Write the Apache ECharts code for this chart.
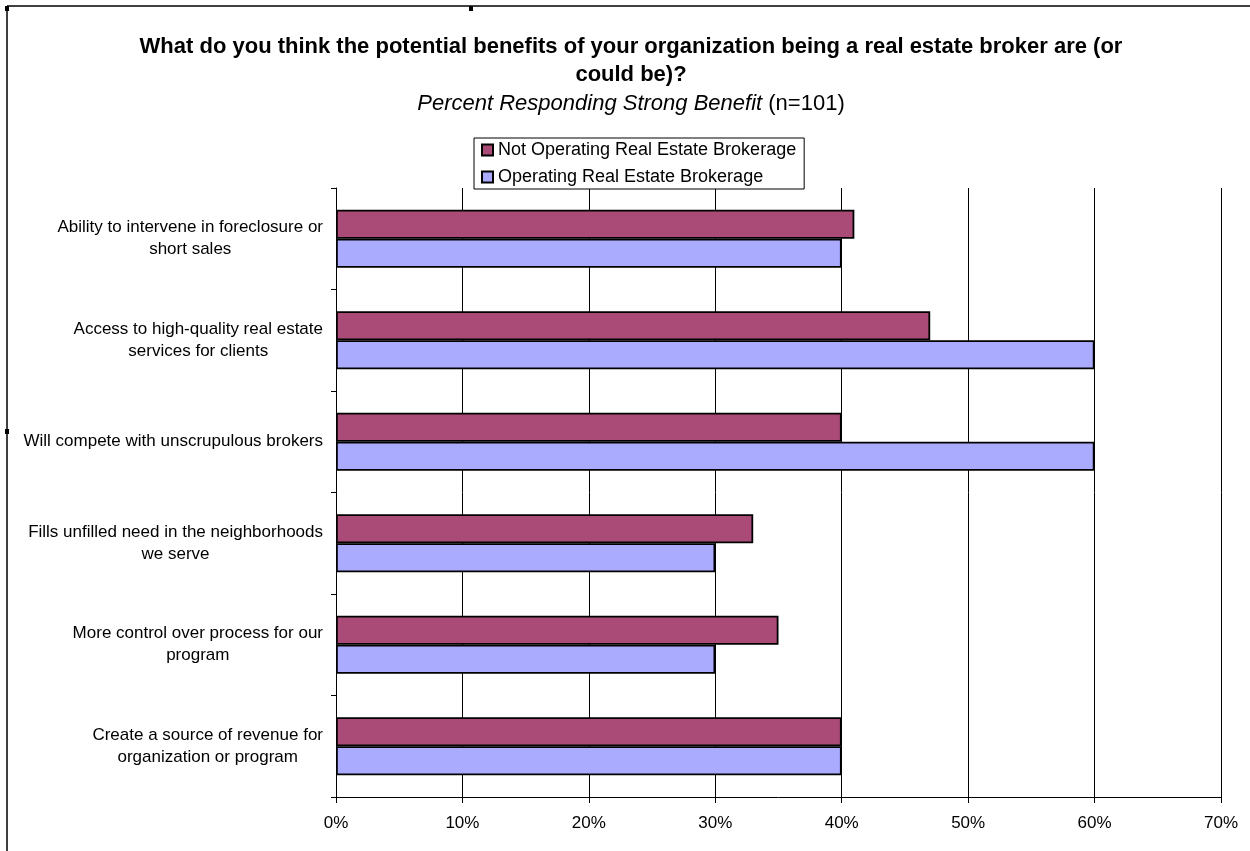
<!DOCTYPE html>
<html>
<head>
<meta charset="utf-8">
<script src="https://cdn.jsdelivr.net/npm/echarts@6/dist/echarts.min.js"></script>
<style>
  html, body { margin: 0; padding: 0; background: #fff; }
  #main { width: 1250px; height: 851px; }
</style>
</head>
<body>
<div id="main"></div>
<script>
var categories = [
  'Ability to intervene in foreclosure or\nshort sales',
  'Access to high-quality real estate\nservices for clients',
  'Will compete with unscrupulous brokers',
  'Fills unfilled need in the neighborhoods\nwe serve',
  'More control over process for our\nprogram',
  'Create a source of revenue for\norganization or program'
];
var notOperating = [41, 47, 40, 33, 35, 40];
var operating = [40, 60, 60, 30, 30, 40];
var seriesNames = ['Not Operating Real Estate Brokerage', 'Operating Real Estate Brokerage'];
var xMin = 0, xMax = 70, xStep = 10;

var font = "'Liberation Sans', Arial, sans-serif";
var chart = echarts.init(document.getElementById('main'));

var option = {
  backgroundColor: '#fff',
  animation: false,
  title: {
    text: 'What do you think the potential benefits of your organization being a real estate broker are (or\ncould be)?',
    subtext: '{i|Percent Responding Strong Benefit} (n=101)',
    left: 631,
    textAlign: 'center',
    top: 33,
    padding: 0,
    itemGap: 3,
    textStyle: {
      fontFamily: font,
      fontSize: 22,
      fontWeight: 'bold',
      lineHeight: 28,
      color: '#000'
    },
    subtextStyle: {
      fontFamily: font,
      fontSize: 22,
      lineHeight: 24,
      color: '#000',
      rich: {
        i: { fontStyle: 'italic', fontFamily: font, fontSize: 22, color: '#000' }
      }
    }
  },
  legend: {
    orient: 'vertical',
    left: 474,
    top: 138,
    padding: [3, 8, 3, 7],
    itemGap: 9,
    itemWidth: 11,
    itemHeight: 11,
    icon: 'rect',
    borderColor: '#000',
    borderWidth: 1,
    backgroundColor: '#fff',
    textStyle: { fontFamily: font, fontSize: 18, lineHeight: 18, color: '#000' },
    data: seriesNames
  },
  grid: {
    left: 336,
    right: 29,
    top: 188,
    bottom: 54,
    containLabel: false
  },
  xAxis: {
    type: 'value',
    min: xMin,
    max: xMax,
    interval: xStep,
    axisLine: { show: true, lineStyle: { color: '#000', width: 1 } },
    axisTick: { show: true, length: 6, lineStyle: { color: '#000' } },
    splitLine: { show: true, lineStyle: { color: '#000', width: 1 } },
    axisLabel: {
      formatter: '{value}%',
      margin: 18,
      fontFamily: font,
      fontSize: 17,
      color: '#000'
    }
  },
  yAxis: {
    type: 'category',
    inverse: true,
    data: categories,
    axisLine: { show: true, lineStyle: { color: '#000', width: 1 } },
    axisTick: { show: true, length: 5, lineStyle: { color: '#000' } },
    splitLine: { show: false },
    axisLabel: {
      margin: 13,
      align: 'right',
      formatter: function (v) {
        return v.split('\n').map(function (s) { return '{c|' + s + '}'; }).join('\n');
      },
      rich: {
        c: { align: 'center', fontFamily: font, fontSize: 17, lineHeight: 22, color: '#000' }
      }
    }
  },
  series: [
    {
      name: seriesNames[0],
      type: 'bar',
      data: notOperating,
      barWidth: 29,
      barGap: '0%',
      itemStyle: { color: '#A94A77', borderColor: '#000', borderWidth: 1.8 }
    },
    {
      name: seriesNames[1],
      type: 'bar',
      data: operating,
      barWidth: 29,
      barGap: '0%',
      itemStyle: { color: '#AAAAFF', borderColor: '#000', borderWidth: 1.8 }
    }
  ],
  graphic: [
    { type: 'line', shape: { x1: 7, y1: 6, x2: 1250, y2: 6 }, style: { stroke: '#000', lineWidth: 1.5 } },
    { type: 'line', shape: { x1: 7, y1: 6, x2: 7, y2: 851 }, style: { stroke: '#000', lineWidth: 1.5 } },
    { type: 'rect', shape: { x: 5, y: 6, width: 4, height: 5 }, style: { fill: '#000' } },
    { type: 'rect', shape: { x: 469, y: 6, width: 4, height: 5 }, style: { fill: '#000' } },
    { type: 'rect', shape: { x: 5, y: 429, width: 4, height: 5 }, style: { fill: '#000' } }
  ]
};

chart.setOption(option);
</script>
</body>
</html>
